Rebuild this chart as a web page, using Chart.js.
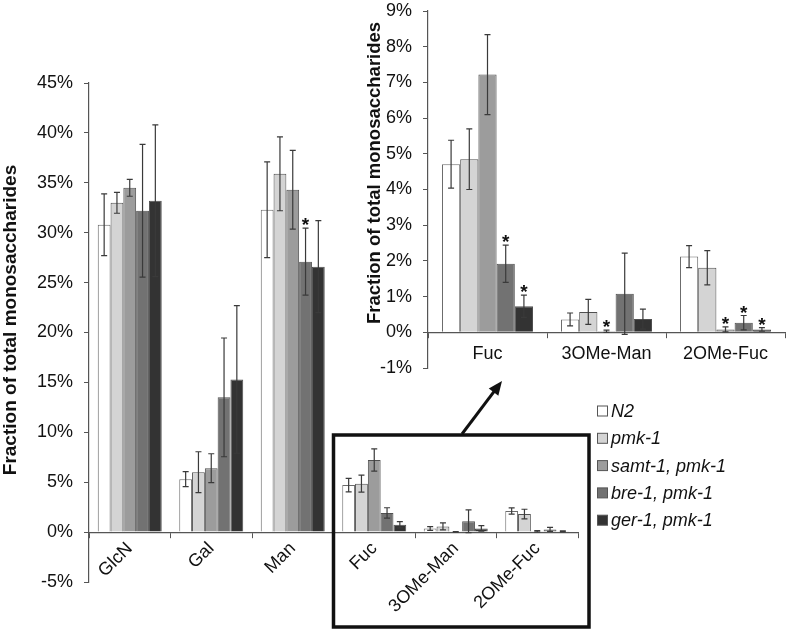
<!DOCTYPE html>
<html>
<head>
<meta charset="utf-8">
<script src="https://cdn.jsdelivr.net/npm/chart.js@4.4.1/dist/chart.umd.min.js"></script>
<style>
  html, body { margin: 0; padding: 0; background: #fff; overflow: hidden; }
  #wrap { position: relative; width: 788px; height: 631px; overflow: hidden; }
  #main { position: absolute; left: 0; top: 0; }
  #inset { position: absolute; left: 360px; top: -20px; }
</style>
</head>
<body>
<div id="wrap">
  <canvas id="main" width="788" height="631"></canvas>
  <canvas id="inset" width="428" height="420"></canvas>
</div>
<script>
// categories and strains
const categories = ['GlcN', 'Gal', 'Man', 'Fuc', '3OMe-Man', '2OMe-Fuc'];
const strains = ['N2', 'pmk-1', 'samt-1, pmk-1', 'bre-1, pmk-1', 'ger-1, pmk-1'];

// mean fraction (%) per category
const n2   = [30.8, 5.3, 32.3, 4.71, 0.36, 2.12];
const pmk1 = [33.0, 6.0, 35.9, 4.85, 0.57, 1.81];
const samt = [34.5, 6.4, 34.3, 7.22, 0.03, 0.08];
const bre  = [32.2, 13.5, 27.1, 1.92, 1.08, 0.27];
const ger  = [33.2, 15.3, 26.6, 0.73, 0.37, 0.08];

// error bars (+/-)
const n2Err   = [3.1, 0.75, 4.8, 0.67, 0.18, 0.31];
const pmk1Err = [1.05, 2.05, 3.7, 0.85, 0.35, 0.48];
const samtErr = [0.85, 1.45, 3.95, 1.12, 0.03, 0.07];
const breErr  = [6.65, 5.95, 3.35, 0.52, 1.14, 0.2];
const gerErr  = [7.6, 7.4, 4.6, 0.31, 0.28, 0.05];

// significance asterisks
const n2Sig   = [0, 0, 0, 0, 0, 0];
const pmk1Sig = [0, 0, 0, 0, 0, 0];
const samtSig = [0, 0, 0, 0, 1, 1];
const breSig  = [0, 0, 1, 1, 0, 1];
const gerSig  = [0, 0, 0, 1, 0, 1];

// y ticks
const mainTicks = { min: -5, max: 45, step: 5 };
const insetTicks = { min: -1, max: 9, step: 1 };
const yTitle = 'Fraction of total monosaccharides';

const colors = ['#ffffff', '#d4d4d4', '#9c9c9c', '#727272', '#333333'];
const values = [n2, pmk1, samt, bre, ger];
const errs = [n2Err, pmk1Err, samtErr, breErr, gerErr];
const sigs = [n2Sig, pmk1Sig, samtSig, breSig, gerSig];

Chart.defaults.font.family = '"Liberation Sans", Arial, sans-serif';
Chart.defaults.color = '#1a1a1a';

const makeDatasets = (from, to) => strains.map((s, i) => ({
  label: s,
  data: values[i].slice(from, to),
  errors: errs[i].slice(from, to),
  stars: sigs[i].slice(from, to),
  backgroundColor: colors[i],
  borderColor: i === 0 ? '#6a6a6a' : '#505050',
  borderWidth: 1
}));

// error bars + asterisks
const errorBars = {
  id: 'errorBars',
  afterDatasetsDraw(chart, args, opts) {
    const ctx = chart.ctx;
    const y = chart.scales.y;
    ctx.save();
    ctx.strokeStyle = '#3a3a3a';
    ctx.lineWidth = 1.2;
    chart.data.datasets.forEach((ds, di) => {
      const meta = chart.getDatasetMeta(di);
      meta.data.forEach((bar, i) => {
        const v = ds.data[i], e = ds.errors[i];
        const top = y.getPixelForValue(v + e);
        const bot = y.getPixelForValue(v - e);
        const cap = opts.cap;
        ctx.beginPath();
        ctx.moveTo(bar.x, top); ctx.lineTo(bar.x, bot);
        ctx.moveTo(bar.x - cap, top); ctx.lineTo(bar.x + cap, top);
        ctx.moveTo(bar.x - cap, bot); ctx.lineTo(bar.x + cap, bot);
        ctx.stroke();
        if (ds.stars[i] && i < opts.starsUpTo) {
          ctx.fillStyle = '#111';
          ctx.font = 'bold 19px "Liberation Sans", Arial, sans-serif';
          ctx.textAlign = 'center';
          ctx.textBaseline = 'alphabetic';
          ctx.fillText('*', bar.x, top + 3);
        }
      });
    });
    ctx.restore();
  }
};

// rotated axis title placed like the original
const sideTitle = {
  id: 'sideTitle',
  afterDraw(chart, args, opts) {
    const ctx = chart.ctx;
    ctx.save();
    ctx.translate(opts.x, opts.y);
    ctx.rotate(-Math.PI / 2);
    ctx.font = 'bold ' + opts.size + 'px "Liberation Sans", Arial, sans-serif';
    ctx.fillStyle = '#111';
    ctx.textAlign = 'center';
    ctx.textBaseline = 'middle';
    ctx.fillText(yTitle, 0, 0);
    ctx.restore();
  }
};

// legend, zoom box and arrow on the main chart
const extras = {
  id: 'extras',
  afterDraw(chart) {
    const ctx = chart.ctx;
    ctx.save();
    // legend
    ctx.font = 'italic 18px "Liberation Sans", Arial, sans-serif';
    ctx.textBaseline = 'middle';
    ctx.textAlign = 'left';
    chart.data.datasets.forEach((ds, i) => {
      const cy = 411 + i * 27.3;
      ctx.fillStyle = ds.backgroundColor;
      ctx.fillRect(597.5, cy - 5, 10, 10);
      ctx.strokeStyle = '#555';
      ctx.lineWidth = 1;
      ctx.strokeRect(597.5, cy - 5, 10, 10);
      ctx.fillStyle = '#111';
      ctx.fillText(ds.label, 611, cy + 1);
    });
    // box round the small categories
    const x = chart.scales.x;
    const left = (x.getPixelForValue(2) + x.getPixelForValue(3)) / 2;
    ctx.strokeStyle = '#111';
    ctx.lineWidth = 3.5;
    ctx.strokeRect(left, 435, 589 - left, 192);
    // arrow to the inset
    const x0 = 462, y0 = 434, x1 = 502, y1 = 381;
    const ang = Math.atan2(y1 - y0, x1 - x0);
    ctx.lineWidth = 3;
    ctx.beginPath();
    ctx.moveTo(x0, y0);
    ctx.lineTo(x1 - 8 * Math.cos(ang), y1 - 8 * Math.sin(ang));
    ctx.stroke();
    ctx.fillStyle = '#111';
    ctx.beginPath();
    ctx.moveTo(x1, y1);
    ctx.lineTo(x1 - 14 * Math.cos(ang) + 6 * Math.sin(ang), y1 - 14 * Math.sin(ang) - 6 * Math.cos(ang));
    ctx.lineTo(x1 - 14 * Math.cos(ang) - 6 * Math.sin(ang), y1 - 14 * Math.sin(ang) + 6 * Math.cos(ang));
    ctx.closePath();
    ctx.fill();
    ctx.restore();
  }
};

const axisColor = '#555';

new Chart(document.getElementById('main'), {
  type: 'bar',
  data: { labels: categories, datasets: makeDatasets(0, 6) },
  options: {
    responsive: false,
    animation: false,
    layout: { padding: { left: 0, top: 83, right: 210, bottom: 49 } },
    datasets: { bar: { categoryPercentage: 0.785, barPercentage: 1 } },
    plugins: {
      legend: { display: false },
      tooltip: { enabled: false },
      errorBars: { cap: 3, starsUpTo: 3 },
      sideTitle: { x: 11, y: 320, size: 19 }
    },
    scales: {
      x: {
        position: { y: 0 },
        grid: { display: true, drawOnChartArea: false, tickLength: 5, color: axisColor },
        border: { color: axisColor, width: 1.2 },
        ticks: { autoSkip: false, minRotation: 45, maxRotation: 45, padding: 1, font: { size: 18 }, color: '#111' }
      },
      y: {
        min: mainTicks.min,
        max: mainTicks.max,
        ticks: { stepSize: mainTicks.step, callback: v => v + '%', padding: 11, font: { size: 18 }, color: '#111' },
        grid: { drawOnChartArea: false, tickLength: 5, color: axisColor },
        border: { color: axisColor, width: 1.2 },
        afterFit(s) { s.width = 89; }
      }
    }
  },
  plugins: [errorBars, sideTitle, extras]
});

// inset canvas starts 20px above the page
new Chart(document.getElementById('inset'), {
  type: 'bar',
  data: { labels: categories.slice(3), datasets: makeDatasets(3, 6) },
  options: {
    responsive: false,
    animation: false,
    layout: { padding: { left: 0, top: 31, right: 3, bottom: 32 } },
    datasets: { bar: { categoryPercentage: 0.765, barPercentage: 1 } },
    plugins: {
      legend: { display: false },
      tooltip: { enabled: false },
      errorBars: { cap: 3, starsUpTo: 3 },
      sideTitle: { x: 15, y: 193, size: 18.5 }
    },
    scales: {
      x: {
        position: { y: 0 },
        grid: { display: true, drawOnChartArea: false, tickLength: 5, color: axisColor },
        border: { color: axisColor, width: 1.2 },
        ticks: { autoSkip: false, maxRotation: 0, padding: 6, font: { size: 18 }, color: '#111' }
      },
      y: {
        min: insetTicks.min,
        max: insetTicks.max,
        ticks: { stepSize: insetTicks.step, callback: v => v + '%', padding: 11, font: { size: 18 }, color: '#111' },
        grid: { drawOnChartArea: false, tickLength: 5, color: axisColor },
        border: { color: axisColor, width: 1.2 },
        afterFit(s) { s.width = 68; }
      }
    }
  },
  plugins: [errorBars, sideTitle]
});
</script>
</body>
</html>
